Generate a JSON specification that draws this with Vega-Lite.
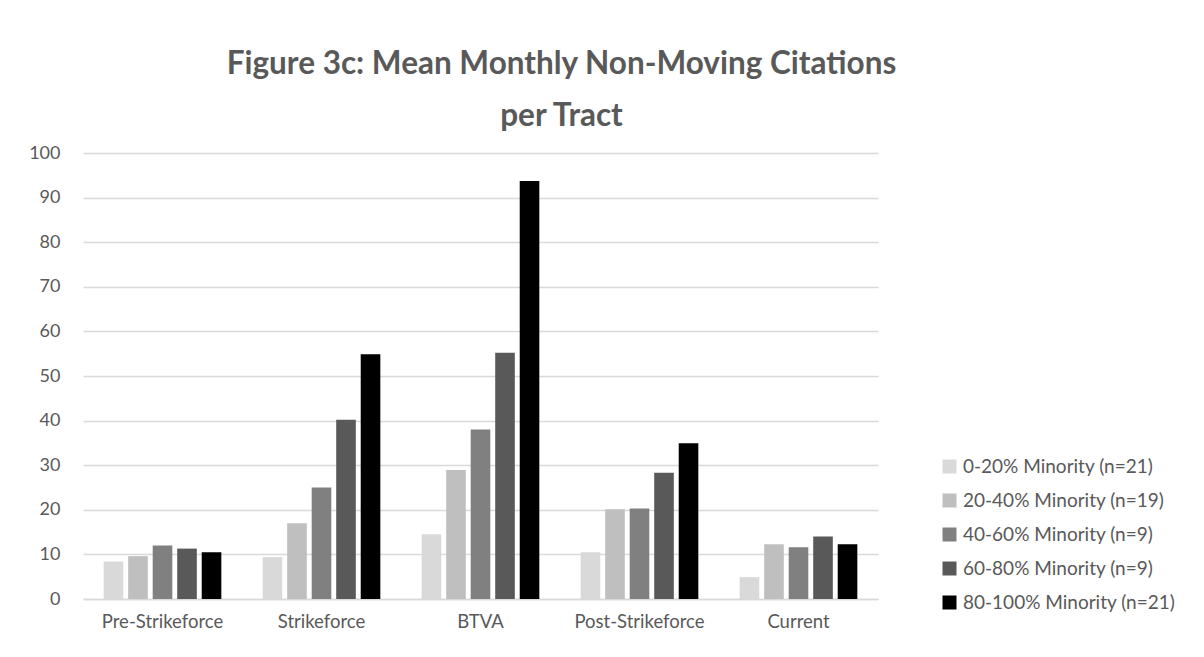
{
  "$schema": "https://vega.github.io/schema/vega-lite/v6.json",
  "width": 795,
  "height": 446,
  "autosize": {"type": "none"},
  "padding": {"left": 83, "top": 153, "right": 326, "bottom": 58},
  "background": "white",
  "title": {
    "text": ["Figure 3c: Mean Monthly Non-Moving Citations", "per Tract"],
    "anchor": "middle",
    "frame": "group",
    "dx": 81,
    "offset": 12,
    "font": "Lato",
    "fontSize": 31.5,
    "fontWeight": "bold",
    "color": "#595959",
    "lineHeight": 52
  },
  "data": {
    "values": [
      {"period": "Pre-Strikeforce", "group": "0-20% Minority (n=21)", "value": 8.4},
      {"period": "Pre-Strikeforce", "group": "20-40% Minority (n=19)", "value": 9.6},
      {"period": "Pre-Strikeforce", "group": "40-60% Minority (n=9)", "value": 12.0},
      {"period": "Pre-Strikeforce", "group": "60-80% Minority (n=9)", "value": 11.3},
      {"period": "Pre-Strikeforce", "group": "80-100% Minority (n=21)", "value": 10.5},
      {"period": "Strikeforce", "group": "0-20% Minority (n=21)", "value": 9.4},
      {"period": "Strikeforce", "group": "20-40% Minority (n=19)", "value": 17.0},
      {"period": "Strikeforce", "group": "40-60% Minority (n=9)", "value": 25.0},
      {"period": "Strikeforce", "group": "60-80% Minority (n=9)", "value": 40.2},
      {"period": "Strikeforce", "group": "80-100% Minority (n=21)", "value": 54.9},
      {"period": "BTVA", "group": "0-20% Minority (n=21)", "value": 14.5},
      {"period": "BTVA", "group": "20-40% Minority (n=19)", "value": 28.9},
      {"period": "BTVA", "group": "40-60% Minority (n=9)", "value": 38.0},
      {"period": "BTVA", "group": "60-80% Minority (n=9)", "value": 55.2},
      {"period": "BTVA", "group": "80-100% Minority (n=21)", "value": 93.7},
      {"period": "Post-Strikeforce", "group": "0-20% Minority (n=21)", "value": 10.5},
      {"period": "Post-Strikeforce", "group": "20-40% Minority (n=19)", "value": 20.1},
      {"period": "Post-Strikeforce", "group": "40-60% Minority (n=9)", "value": 20.3},
      {"period": "Post-Strikeforce", "group": "60-80% Minority (n=9)", "value": 28.3},
      {"period": "Post-Strikeforce", "group": "80-100% Minority (n=21)", "value": 34.9},
      {"period": "Current", "group": "0-20% Minority (n=21)", "value": 4.9},
      {"period": "Current", "group": "20-40% Minority (n=19)", "value": 12.3},
      {"period": "Current", "group": "40-60% Minority (n=9)", "value": 11.6},
      {"period": "Current", "group": "60-80% Minority (n=9)", "value": 14.0},
      {"period": "Current", "group": "80-100% Minority (n=21)", "value": 12.3}
    ]
  },
  "mark": {"type": "bar"},
  "encoding": {
    "x": {
      "field": "period",
      "type": "nominal",
      "sort": ["Pre-Strikeforce", "Strikeforce", "BTVA", "Post-Strikeforce", "Current"],
      "scale": {"paddingInner": 0.26, "paddingOuter": 0.13},
      "axis": {
        "title": null,
        "labelAngle": 0,
        "labelFont": "Lato",
        "labelFontSize": 18.5,
        "labelColor": "#595959",
        "labelPadding": 13,
        "ticks": false,
        "domain": true,
        "domainColor": "#D9D9D9",
        "domainWidth": 1.5
      }
    },
    "xOffset": {
      "field": "group",
      "type": "nominal",
      "sort": ["0-20% Minority (n=21)", "20-40% Minority (n=19)", "40-60% Minority (n=9)", "60-80% Minority (n=9)", "80-100% Minority (n=21)"],
      "scale": {"paddingInner": 0.2, "paddingOuter": 0}
    },
    "y": {
      "field": "value",
      "type": "quantitative",
      "scale": {"domain": [0, 100], "nice": false},
      "axis": {
        "title": null,
        "values": [0, 10, 20, 30, 40, 50, 60, 70, 80, 90, 100],
        "domain": false,
        "ticks": false,
        "labelFont": "Lato",
        "labelFontSize": 18,
        "labelColor": "#595959",
        "labelPadding": 23,
        "gridColor": "#D9D9D9",
        "gridWidth": 1.5
      }
    },
    "color": {
      "field": "group",
      "type": "nominal",
      "sort": ["0-20% Minority (n=21)", "20-40% Minority (n=19)", "40-60% Minority (n=9)", "60-80% Minority (n=9)", "80-100% Minority (n=21)"],
      "scale": {"range": ["#D9D9D9", "#BFBFBF", "#808080", "#595959", "#000000"]},
      "legend": {
        "title": null,
        "orient": "none",
        "legendX": 857,
        "legendY": 304,
        "symbolType": "square",
        "symbolSize": 196,
        "symbolStrokeWidth": 0,
        "labelFont": "Lato",
        "labelFontSize": 19,
        "labelColor": "#595959",
        "labelOffset": 4,
        "rowPadding": 14,
        "labelLimit": 300
      }
    }
  },
  "config": {
    "view": {"stroke": null}
  }
}
